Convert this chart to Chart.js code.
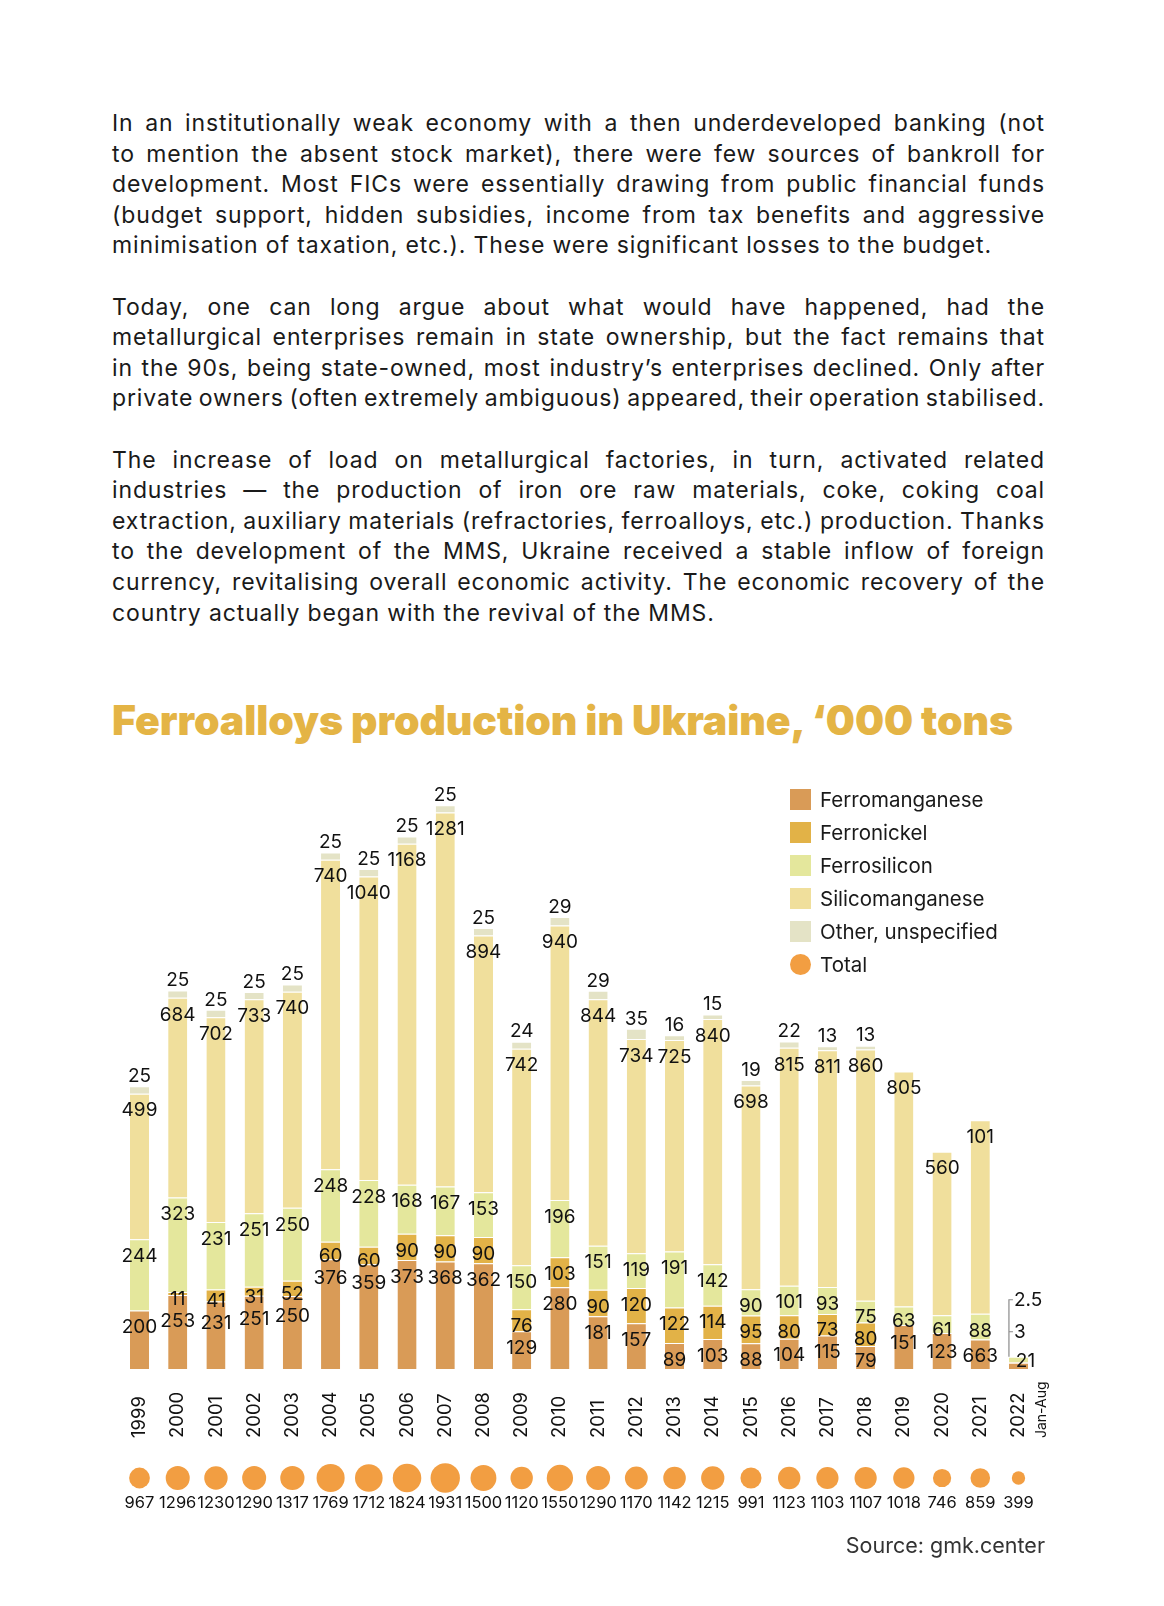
<!DOCTYPE html>
<html>
<head>
<meta charset="utf-8">
<script src="https://cdn.jsdelivr.net/npm/chart.js@4.4.0/dist/chart.umd.min.js"></script>
<style>
  html, body { margin: 0; padding: 0; background: #fff; }
  body { width: 1164px; height: 1606px; position: relative; overflow: hidden; font-family: Inter, sans-serif; color: #1a1a1a; }
  .text { position: absolute; left: 112px; width: 933px; top: 108px; font-size: 23px; line-height: 30.6px; }
  .text p { margin: 0 0 30.6px 0; }
  .text span { display: block; white-space: nowrap; text-align: justify; text-align-last: justify; }
  .text span.last { text-align-last: left; }
  h1 { position: absolute; left: 112px; top: 700px; margin: 0; font-size: 41px; line-height: 40px; font-weight: 900; color: #E4B445; letter-spacing: -0.1px; white-space: nowrap; }
  #chartBox { position: absolute; left: 0; top: 760px; width: 1164px; height: 820px; }
  #legend { position: absolute; left: 790px; top: 783px; font-size: 20.5px; color: #1a1a1a; }
  #legend div { height: 33px; display: flex; align-items: center; }
  #legend i { display: inline-block; width: 21px; height: 21px; margin-right: 9px; }
  #legend i.dot { border-radius: 50%; }
  .source { position: absolute; right: 119px; top: 1533px; font-size: 21.5px; line-height: 24px; color: #333; }
</style>
</head>
<body>

<div class="text">
  <p>
    <span>In an institutionally weak economy with a then underdeveloped banking (not</span>
    <span>to mention the absent stock market), there were few sources of bankroll for</span>
    <span>development. Most FICs were essentially drawing from public financial funds</span>
    <span>(budget support, hidden subsidies, income from tax benefits and aggressive</span>
    <span class="last">minimisation of taxation, etc.). These were significant losses to the budget.</span>
  </p>
  <p>
    <span>Today, one can long argue about what would have happened, had the</span>
    <span>metallurgical enterprises remain in state ownership, but the fact remains that</span>
    <span>in the 90s, being state-owned, most industry’s enterprises declined. Only after</span>
    <span>private owners (often extremely ambiguous) appeared, their operation stabilised.</span>
  </p>
  <p>
    <span>The increase of load on metallurgical factories, in turn, activated related</span>
    <span>industries — the production of iron ore raw materials, coke, coking coal</span>
    <span>extraction, auxiliary materials (refractories, ferroalloys, etc.) production. Thanks</span>
    <span>to the development of the MMS, Ukraine received a stable inflow of foreign</span>
    <span>currency, revitalising overall economic activity. The economic recovery of the</span>
    <span class="last">country actually began with the revival of the MMS.</span>
  </p>
</div>

<h1>Ferroalloys production in Ukraine, ‘000 tons</h1>

<div id="chartBox"><canvas id="chart"></canvas></div>
<div id="legend"></div>
<div class="source">Source: gmk.center</div>

<script>
const years = ['1999', '2000', '2001', '2002', '2003', '2004', '2005', '2006', '2007', '2008', '2009', '2010',
  '2011', '2012', '2013', '2014', '2015', '2016', '2017', '2018', '2019', '2020', '2021', '2022'];

// bar segments as drawn in the picture
const ferromanganese = [200, 253, 231, 251, 250, 376, 359, 373, 368, 362, 129, 280, 181, 157, 89, 103, 88, 104, 115, 79, 151, 123, 101, 21];
const ferronickel = [0, 11, 41, 31, 52, 60, 60, 90, 90, 90, 76, 103, 90, 120, 122, 114, 95, 80, 73, 80, 0, 0, 0, 3];
const ferrosilicon = [244, 323, 231, 251, 250, 248, 228, 168, 167, 153, 150, 196, 151, 119, 191, 142, 90, 101, 93, 75, 63, 61, 88, 18];
const silicomanganese = [499, 684, 702, 733, 740, 1060, 1040, 1168, 1281, 880, 742, 940, 844, 734, 725, 840, 698, 815, 811, 860, 805, 560, 663, 0];
const otherUnspecified = [25, 25, 25, 25, 25, 25, 25, 25, 25, 25, 24, 29, 29, 35, 16, 15, 19, 22, 13, 13, 0, 0, 0, 0];
const totals = [967, 1296, 1230, 1290, 1317, 1769, 1712, 1824, 1931, 1500, 1120, 1550, 1290, 1170, 1142, 1215, 991, 1123, 1103, 1107, 1018, 746, 859, 399];

// labels printed in the source that differ from the bar heights
const printedLabels = {
  silicomanganese: { 5: '740', 9: '894', 22: '101' },
  ferromanganese: { 22: '663' }
};
const bracketNotes = ['2.5', '3']; // 2022 small values, shown beside the bar

const colors = {
  ferromanganese: '#D99B57',
  ferronickel: '#E2B247',
  ferrosilicon: '#E4E79C',
  silicomanganese: '#F0DF9C',
  other: '#E4E3C6',
  total: '#F29E42'
};

const series = [
  { key: 'ferromanganese', label: 'Ferromanganese', data: ferromanganese, color: colors.ferromanganese },
  { key: 'ferronickel', label: 'Ferronickel', data: ferronickel, color: colors.ferronickel },
  { key: 'ferrosilicon', label: 'Ferrosilicon', data: ferrosilicon, color: colors.ferrosilicon },
  { key: 'silicomanganese', label: 'Silicomanganese', data: silicomanganese, color: colors.silicomanganese },
  { key: 'other', label: 'Other, unspecified', data: otherUnspecified, color: colors.other }
];

// legend
const legend = document.getElementById('legend');
series.forEach(s => {
  legend.innerHTML += `<div><i style="background:${s.color}"></i>${s.label}</div>`;
});
legend.innerHTML += `<div><i class="dot" style="background:${colors.total}"></i>Total</div>`;

// the source typeface is wider than Inter: spread letters so the
// unjustified last line of paragraph 1 is as long as in the picture
function fitText() {
  const box = document.querySelector('.text');
  const probe = document.createElement('span');
  probe.style.cssText = 'position:absolute;visibility:hidden;white-space:nowrap;display:inline-block;text-align:left';
  box.appendChild(probe);
  const ref = document.querySelector('.text span.last');
  probe.textContent = ref.textContent;
  const w = probe.getBoundingClientRect().width;
  box.style.letterSpacing = ((880 - w) / ref.textContent.length) + 'px';
  document.querySelectorAll('.text p span').forEach(line => {
    probe.textContent = line.textContent;
    const nw = probe.getBoundingClientRect().width;
    if (nw > 931) {
      const spaces = line.textContent.split(' ').length - 1;
      line.style.wordSpacing = ((931 - nw) / spaces) + 'px';
    }
  });
  probe.remove();
}

const FONT = 'Inter, sans-serif';

const segmentLabels = {
  id: 'segmentLabels',
  afterDatasetsDraw(chart) {
    const ctx = chart.ctx;
    const bottom = chart.chartArea.bottom;
    ctx.save();
    ctx.font = `19px ${FONT}`;
    ctx.fillStyle = '#111';
    ctx.textAlign = 'center';
    ctx.textBaseline = 'middle';
    const last = years.length - 1;
    years.forEach((y, i) => {
      const items = [];
      for (let d = 0; d < 4; d++) {
        const s = series[d];
        const v = s.data[i];
        if (!v) continue;
        if (i === last && d > 0) continue;
        const el = chart.getDatasetMeta(d).data[i];
        const txt = (printedLabels[s.key] && printedLabels[s.key][i]) || String(v);
        items.push({ x: el.x + (i === last ? 7 : 0), y: el.y + 17, txt });
      }
      // spread labels that collide
      items.sort((a, b) => b.y - a.y);
      for (let pass = 0; pass < 6; pass++) {
        items.forEach(it => { if (it.y > bottom - 8) it.y = bottom - 8; });
        for (let k = 0; k < items.length - 1; k++) {
          const lo = items[k], hi = items[k + 1];
          if (lo.y - hi.y < 22) {
            const m = (lo.y + hi.y) / 2;
            lo.y = m + 11;
            hi.y = m - 11;
          }
        }
      }
      items.forEach(it => ctx.fillText(it.txt, it.x, it.y));
      if (otherUnspecified[i]) {
        const el = chart.getDatasetMeta(4).data[i];
        ctx.fillText(String(otherUnspecified[i]), el.x, el.y - 10);
      }
    });

    // bracket for the 2022 tiny segments
    const top = chart.getDatasetMeta(2).data[last];
    const bx = top.x - top.width / 2;
    ctx.strokeStyle = '#8a8a8a';
    ctx.lineWidth = 1.2;
    ctx.beginPath();
    ctx.moveTo(bx, top.y);
    ctx.lineTo(bx, top.y - 57);
    ctx.lineTo(bx + 4, top.y - 57);
    ctx.moveTo(bx, top.y - 25);
    ctx.lineTo(bx + 4, top.y - 25);
    ctx.stroke();
    ctx.textAlign = 'left';
    ctx.fillText(bracketNotes[0], bx + 5, top.y - 56);
    ctx.fillText(bracketNotes[1], bx + 5, top.y - 24);
    ctx.restore();
  }
};

const yearsAndTotals = {
  id: 'yearsAndTotals',
  afterDraw(chart) {
    const ctx = chart.ctx;
    const xs = chart.scales.x;
    const bottom = chart.chartArea.bottom;
    ctx.save();
    years.forEach((y, i) => {
      const x = xs.getPixelForValue(i);
      // rotated year label, starting at the bottom
      ctx.save();
      ctx.translate(x, bottom + 69);
      ctx.rotate(-Math.PI / 2);
      ctx.font = `18.5px ${FONT}`;
      ctx.fillStyle = '#111';
      ctx.textAlign = 'left';
      ctx.textBaseline = 'middle';
      ctx.fillText(y, 0, 0);
      if (i === years.length - 1) {
        ctx.font = `14px ${FONT}`;
        ctx.fillText('Jan-Aug', 0, 23);
      }
      ctx.restore();

      // total bubble, area proportional to the total
      const r = 0.334 * Math.sqrt(totals[i]);
      ctx.beginPath();
      ctx.fillStyle = colors.total;
      ctx.arc(x, bottom + 109, r, 0, Math.PI * 2);
      ctx.fill();
      ctx.font = `16.5px ${FONT}`;
      ctx.fillStyle = '#111';
      ctx.textAlign = 'center';
      ctx.textBaseline = 'middle';
      ctx.fillText(String(totals[i]), x, bottom + 134);
    });
    ctx.restore();
  }
};

function draw() {
  fitText();
  new Chart(document.getElementById('chart'), {
    type: 'bar',
    data: {
      labels: years,
      datasets: series.map(s => ({
        label: s.label,
        data: s.data,
        backgroundColor: s.color,
        borderColor: 'rgba(255,255,255,0.55)',
        borderWidth: { top: 1 },
        borderSkipped: false,
        barPercentage: 0.5,
        categoryPercentage: 1
      }))
    },
    options: {
      responsive: true,
      maintainAspectRatio: false,
      animation: false,
      layout: { padding: { left: 120.4, right: 126.4, top: 25, bottom: 211 } },
      plugins: { legend: { display: false }, tooltip: { enabled: false } },
      scales: {
        x: { stacked: true, display: false },
        y: { stacked: true, display: false, min: 0, max: 2000 }
      }
    },
    plugins: [segmentLabels, yearsAndTotals]
  });
}

document.fonts.ready.then(draw);
</script>
</body>
</html>
